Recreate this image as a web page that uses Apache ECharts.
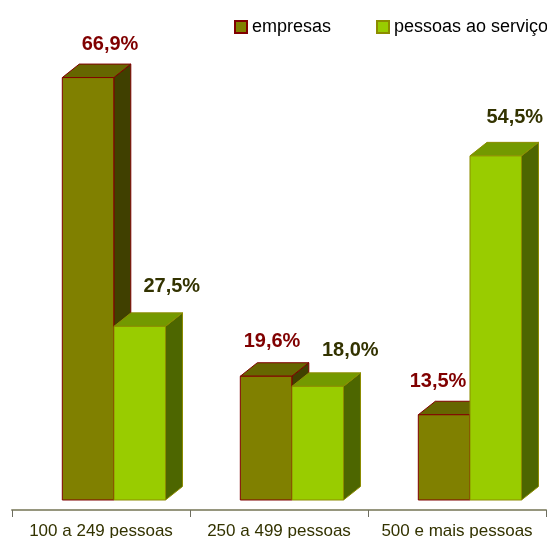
<!DOCTYPE html>
<html>
<head>
<meta charset="utf-8">
<script src="https://cdn.jsdelivr.net/npm/echarts@6/dist/echarts.min.js"></script>
<style>
  html, body { margin: 0; padding: 0; background: #fff; }
  #chart { width: 547px; height: 538px; }
</style>
</head>
<body>
<div id="chart"></div>
<script>
// Company size classes and shares (%)
const categories = ['100 a 249 pessoas', '250 a 499 pessoas', '500 e mais pessoas'];
const empresas = [66.9, 19.6, 13.5];
const pessoas = [27.5, 18.0, 54.5];
const seriesNames = ['empresas', 'pessoas ao serviço'];

// Label nudges (px) relative to the top-front centre of each box
const labelShift = [
  [[22, -33], [6, -34.5], [-6, -33]],
  [[32, -40], [32.5, -35.5], [19, -38.5]]
];

const FONT = '"Liberation Sans", Arial, sans-serif';

const palette = [
  { front: '#808000', top: '#666600', side: '#404000', stroke: '#800000', label: '#800000' },
  { front: '#99cc00', top: '#739900', side: '#4d6600', stroke: '#8c8c00', label: '#333300' }
];

// Draws one 3D box per category: front face, top face, right side and value label
function makeRender(si) {
  return function (params, api) {
    const cat = api.value(0);
    const v = api.value(1);
    const base = api.coord([cat, 0]);
    const top = api.coord([cat, v]);
    const band = api.size([1, 0])[0];
    const lift = 10;                 // floor sits a little above the axis line
    const dx = 17, dy = -13.5;       // depth offset
    const w = band * 0.2893;
    const x0 = base[0] + band * (si === 0 ? -0.2174 : 0.073);
    const yB = base[1] - lift;
    const yT = top[1] - lift;
    const c = palette[si];
    const sh = labelShift[si][params.dataIndex];
    const lineW = 1;
    return {
      type: 'group',
      children: [
        {
          type: 'polygon',
          shape: { points: [[x0 + w, yT], [x0 + w + dx, yT + dy], [x0 + w + dx, yB + dy], [x0 + w, yB]] },
          style: { fill: c.side, stroke: c.stroke, lineWidth: lineW }
        },
        {
          type: 'polygon',
          shape: { points: [[x0, yT], [x0 + dx, yT + dy], [x0 + w + dx, yT + dy], [x0 + w, yT]] },
          style: { fill: c.top, stroke: c.stroke, lineWidth: lineW }
        },
        {
          type: 'rect',
          shape: { x: x0, y: yT, width: w, height: yB - yT },
          style: { fill: c.front, stroke: c.stroke, lineWidth: lineW }
        },
        {
          type: 'text',
          x: x0 + w / 2 + sh[0],
          y: yT + sh[1],
          style: {
            text: v.toFixed(1).replace('.', ',') + '%',
            fill: c.label,
            font: 'bold 20px ' + FONT,
            align: 'center',
            verticalAlign: 'middle'
          }
        }
      ]
    };
  };
}

const chart = echarts.init(document.getElementById('chart'), null, { renderer: 'canvas' });

const legendBase = {
  top: 18,
  padding: 0,
  itemWidth: 12,
  itemHeight: 12,
  itemGap: 4,
  icon: 'rect',
  textStyle: { color: '#000000', fontSize: 18, fontFamily: FONT }
};

chart.setOption({
  animation: false,
  backgroundColor: '#ffffff',
  textStyle: { fontFamily: FONT },
  legend: [
    Object.assign({}, legendBase, { left: 234, data: [seriesNames[0]] }),
    Object.assign({}, legendBase, { left: 376, data: [seriesNames[1]] })
  ],
  grid: { left: 12, right: 1, top: 68, bottom: 28, containLabel: false, outerBoundsMode: 'none' },
  xAxis: {
    type: 'category',
    data: categories,
    boundaryGap: true,
    axisLine: { lineStyle: { color: '#96967e', width: 2 } },
    axisTick: { show: true, length: 7, lineStyle: { color: '#6e6e60', width: 1 } },
    axisLabel: { interval: 0, color: '#333300', fontSize: 17, fontFamily: FONT, margin: 13 },
    splitLine: { show: false }
  },
  yAxis: {
    type: 'value',
    min: 0,
    max: 70,
    show: false
  },
  series: [
    {
      name: seriesNames[0],
      type: 'custom',
      clip: false,
      z: 1,
      renderItem: makeRender(0),
      itemStyle: { color: palette[0].front, borderColor: palette[0].stroke, borderWidth: 1 },
      encode: { x: 0, y: 1 },
      data: empresas.map((v, i) => [i, v])
    },
    {
      name: seriesNames[1],
      type: 'custom',
      clip: false,
      z: 2,
      renderItem: makeRender(1),
      itemStyle: { color: palette[1].front, borderColor: palette[1].stroke, borderWidth: 1 },
      encode: { x: 0, y: 1 },
      data: pessoas.map((v, i) => [i, v])
    }
  ]
});
</script>
</body>
</html>
